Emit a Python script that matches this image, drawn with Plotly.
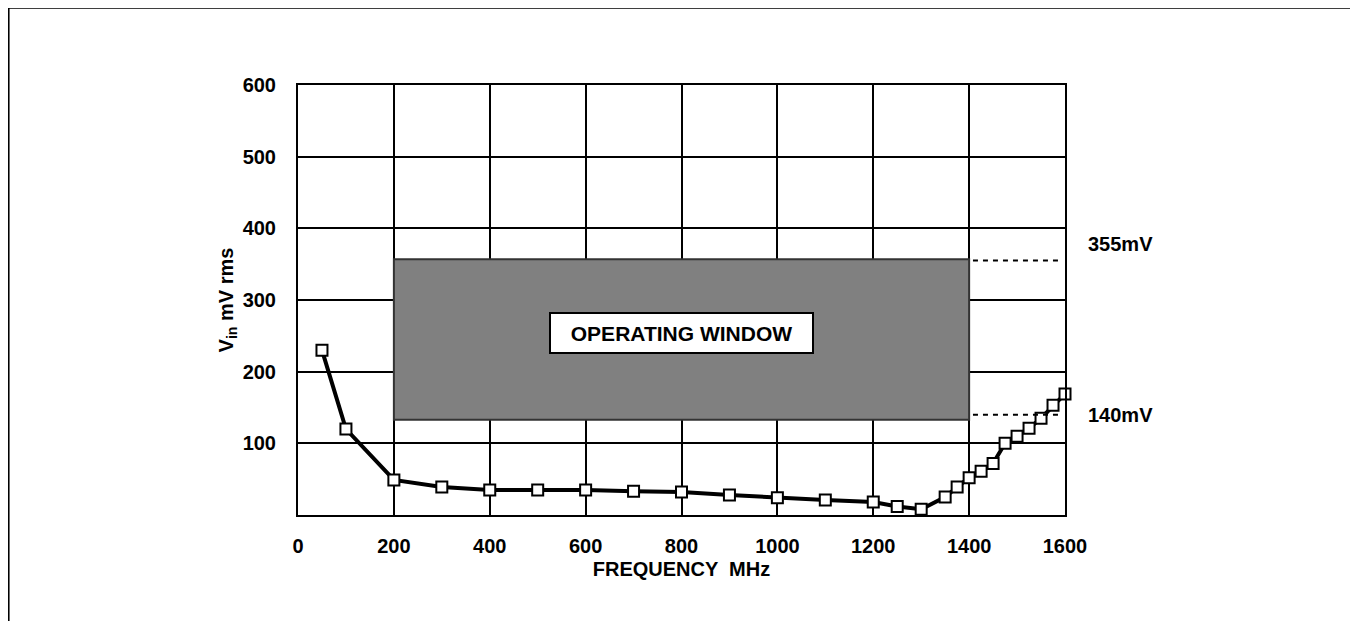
import plotly.graph_objects as go

freq_mhz = [50, 100, 200, 300, 400, 500, 600, 700, 800, 900, 1000, 1100, 1200, 1250, 1300,
            1350, 1375, 1400, 1425, 1450, 1475, 1500, 1525, 1550, 1575, 1600]
vin_mv = [230, 120, 49, 39, 35, 35, 35, 33, 32, 28, 24, 21, 18, 12, 8,
          25, 39, 52, 61, 72, 100, 110, 121, 135, 153, 169]

window_x = [200, 1400]
window_y = [133, 357]
limit_vals = [355, 140]
limit_labels = ["355mV", "140mV"]
x_ticks = [0, 200, 400, 600, 800, 1000, 1200, 1400, 1600]
y_ticks = [100, 200, 300, 400, 500, 600]

FONT = "Liberation Sans, Arial, sans-serif"

fig = go.Figure()
fig.add_trace(go.Scatter(
    x=freq_mhz, y=vin_mv, mode="lines+markers",
    line=dict(color="black", width=4),
    marker=dict(symbol="square", size=11, color="white", line=dict(color="black", width=2)),
    showlegend=False, cliponaxis=False,
))

shapes = [
    dict(type="rect", xref="x", yref="y", x0=window_x[0], x1=window_x[1], y0=window_y[0], y1=window_y[1],
         fillcolor="#808080", line=dict(color="#333333", width=2), layer="above"),
    dict(type="rect", xref="paper", yref="paper", x0=-0.378, x1=1.374, y0=-0.4, y1=1.181,
         line=dict(color="black", width=3), fillcolor="rgba(0,0,0,0)", layer="below"),
]
for v in limit_vals:
    shapes.append(dict(type="line", xref="x", yref="y", x0=1408, x1=1595, y0=v, y1=v,
                       line=dict(color="black", width=2, dash="5px,5px")))

annotations = [
    dict(x=800, y=254, xref="x", yref="y", text="<b>OPERATING WINDOW</b>", showarrow=False,
         font=dict(family=FONT, size=21, color="black"), bgcolor="white",
         bordercolor="black", borderwidth=2, borderpad=2, width=257, height=34),
]
for v, lab in zip(limit_vals, limit_labels):
    annotations.append(dict(x=1.028, y=v, xref="paper", yref="y", text=f"<b>{lab}</b>", showarrow=False,
                            xanchor="left", yanchor="bottom" if v > 300 else "middle",
                            yshift=4 if v > 300 else 0,
                            font=dict(family=FONT, size=20, color="black")))

fig.update_layout(
    width=1358, height=621,
    margin=dict(l=290, r=301, t=77, b=114),
    paper_bgcolor="white", plot_bgcolor="white",
    font=dict(family=FONT, size=20, color="black"),
    shapes=shapes, annotations=annotations,
    xaxis=dict(range=[0, 1600], tickvals=x_ticks, ticktext=[f"<b>{t}</b>" for t in x_ticks],
               showgrid=True, gridcolor="black", gridwidth=2, showline=True, linecolor="black",
               linewidth=2, mirror=True, zeroline=False, ticks="", ticklen=0,
               ticklabelstandoff=12, tickfont=dict(size=20),
               title=dict(text="<b>FREQUENCY  MHz</b>", standoff=6, font=dict(size=20))),
    yaxis=dict(range=[0, 600], tickvals=y_ticks, ticktext=[f"<b>{t}</b>" for t in y_ticks],
               showgrid=True, gridcolor="black", gridwidth=2, showline=True, linecolor="black",
               linewidth=2, mirror=True, zeroline=False, ticks="", ticklen=0,
               ticklabelstandoff=16, tickfont=dict(size=20),
               title=dict(text="<b>V<sub>in</sub> mV rms</b>", standoff=4, font=dict(size=20))),
)

fig.write_html("out.html")
